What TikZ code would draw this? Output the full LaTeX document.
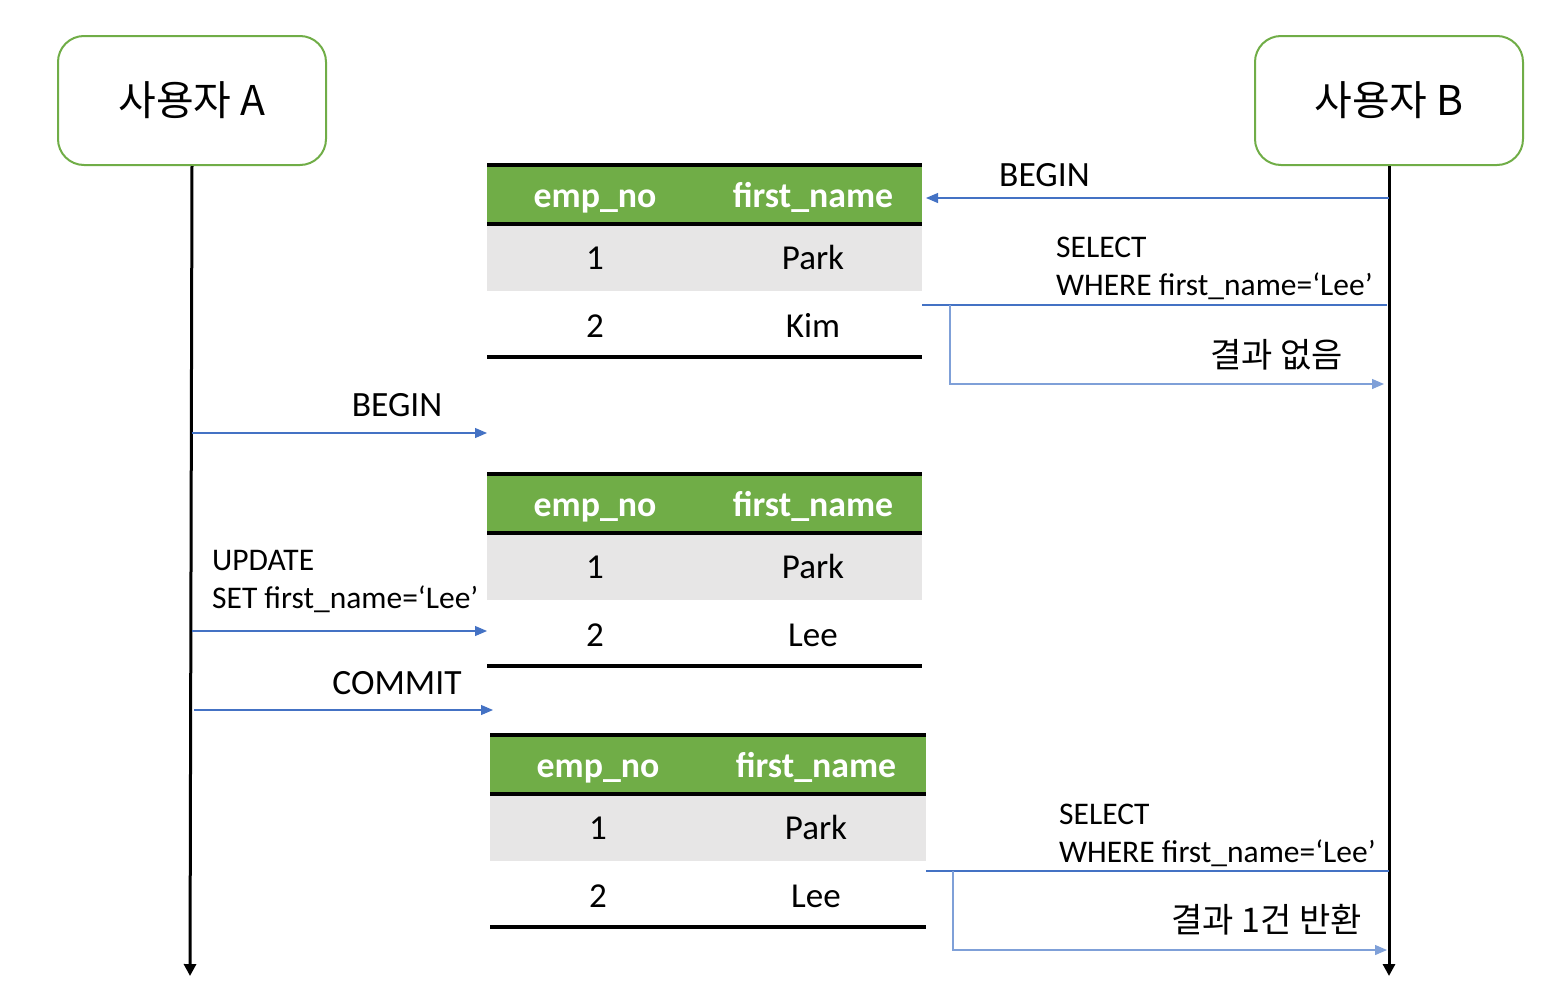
\documentclass[tikz,border=0pt]{standalone}
\usepackage{fontspec}
\setmainfont{Carlito}
\newfontfamily\kr{Noto Sans CJK KR}
\usetikzlibrary{arrows.meta}
\definecolor{hdgreen}{HTML}{70AD47}
\definecolor{msgblue}{HTML}{4472C4}
\definecolor{retblue}{HTML}{7FA0D8}
\definecolor{rowgray}{HTML}{E7E6E6}
\tikzset{
  actor/.style={draw=hdgreen, line width=2pt, rounded corners=26pt, minimum width=268pt, minimum height=129pt, font=\kr\fontsize{41}{46}\selectfont, inner sep=0pt},
  life/.style={line width=3pt, -{Triangle[width=12pt,length=12pt]}},
  msg/.style={draw=msgblue, line width=1.1pt, -{Triangle[width=10pt,length=12pt]}},
  plainmsg/.style={draw=msgblue, line width=1.1pt},
  ret/.style={draw=retblue, line width=1.3pt, -{Triangle[width=10pt,length=12pt]}},
  lbl/.style={font=\fontsize{35.5}{40}\selectfont, inner sep=0pt},
  qlbl/.style={font=\fontsize{31.5}{38}\selectfont, inner sep=0pt, align=left},
  krlbl/.style={font=\kr\fontsize{34}{38}\selectfont, inner sep=0pt},
  hdr/.style={font=\bfseries\fontsize{35.8}{40}\selectfont, text=white, inner sep=0pt},
  cell/.style={font=\fontsize{35}{40}\selectfont, inner sep=0pt},
  rule/.style={line width=3.5pt},
}
\newcommand{\dbtable}[5]{%
  % #1 left x, #2 right x, #3 top y, #4 prefix, #5 row2 name
  \fill[hdgreen] (#1,#3) rectangle (#2,#3+59);
  \fill[rowgray] (#1,#3+59) rectangle (#2,#3+126);
  \draw[rule] (#1,#3) -- (#2,#3);
  \draw[rule] (#1,#3+59) -- (#2,#3+59);
  \draw[rule] (#1,#3+192) -- (#2,#3+192);
  \node[hdr, anchor=base] (#4h1) at (#1+108,#3+42) {emp\_no};
  \node[hdr, anchor=base] (#4h2) at (#1+326,#3+42) {first\_name};
  \node[cell, anchor=base] (#4a1) at (#1+108,#3+104) {1};
  \node[cell, anchor=base] (#4a2) at (#1+326,#3+104) {Park};
  \node[cell, anchor=base] (#4b1) at (#1+108,#3+172) {2};
  \node[cell, anchor=base] (#4b2) at (#1+326,#3+172) {#5};
}
\begin{document}
\begin{tikzpicture}[x=1pt,y=-1pt]
\useasboundingbox (0,0) rectangle (1561,1004);
% actors
\node[actor] (A) at (192,100.5) {사용자 A};
\node[actor] (B) at (1389,100.5) {사용자 B};
\coordinate (Aend) at (190,976);
\coordinate (Bend) at (1389,976);
\draw[life] (A.south) -- (Aend);
\draw[life] (B.south) -- (Bend);
% tables
\dbtable{487}{922}{165}{t1}{Kim}
\dbtable{487}{922}{474}{t2}{Lee}
\dbtable{490}{926}{735}{t3}{Lee}
% B BEGIN
\coordinate (bB1) at (1389,198);
\coordinate (bT1) at (926,198);
\draw[msg] (bB1) -- (bT1);
\node[lbl, anchor=base west] (lbB) at (999,186) {BEGIN};
% B SELECT 1
\coordinate (s1B) at (1387,305);
\coordinate (s1T) at (922,305);
\coordinate (s1K) at (950,305);
\coordinate (s1C) at (950,384);
\coordinate (s1E) at (1384,384);
\draw[plainmsg] (s1B) -- (s1T);
\draw[ret] (s1K) -- (s1C) -- (s1E);
\node[qlbl, anchor=north west] (q1) at (1056,237) {SELECT\\WHERE first\_name=‘Lee’};
\node[krlbl, anchor=base east] (r1) at (1343,367) {결과 없음};
% A BEGIN
\coordinate (bA2) at (192,433);
\coordinate (bT2) at (487,433);
\draw[msg] (bA2) -- (bT2);
\node[lbl, anchor=base] (lbA) at (397,416) {BEGIN};
% A UPDATE
\coordinate (uA) at (192,631);
\coordinate (uT) at (487,631);
\draw[msg] (uA) -- (uT);
\node[qlbl, anchor=north west] (q2) at (212,550) {UPDATE\\SET first\_name=‘Lee’};
% A COMMIT
\coordinate (cA) at (194,710);
\coordinate (cT) at (493,710);
\draw[msg] (cA) -- (cT);
\node[lbl, anchor=base] (lbC) at (397,694) {COMMIT};
% B SELECT 2
\coordinate (s2B) at (1389,871);
\coordinate (s2T) at (926,871);
\coordinate (s2K) at (953,871);
\coordinate (s2C) at (953,950);
\coordinate (s2E) at (1387,950);
\draw[plainmsg] (s2B) -- (s2T);
\draw[ret] (s2K) -- (s2C) -- (s2E);
\node[qlbl, anchor=north west] (q3) at (1059,804) {SELECT\\WHERE first\_name=‘Lee’};
\node[krlbl, anchor=base east] (r2) at (1362,932) {결과 1건 반환};
\end{tikzpicture}
\end{document}
